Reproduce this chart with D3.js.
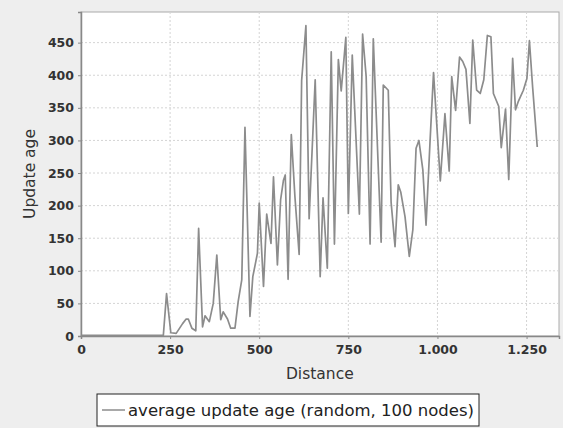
<!DOCTYPE html>
<html>
<head>
<meta charset="UTF-8">
<title>Update age vs distance</title>
<script src="https://d3js.org/d3.v7.min.js"></script>
<style>
  body { margin: 0; background: #eeeeee; font-family: "DejaVu Sans", sans-serif; }
  svg { display: block; }
  .tick text { fill: #333; }
</style>
</head>
<body>
<svg id="chart" width="563" height="428"></svg>
<script>
// values
const distance = [0, 50, 100, 150, 200, 231, 240, 252, 267, 285, 295, 301, 311, 322, 330, 341, 348, 360, 371, 381,
  392, 399, 411, 420, 432, 441, 451, 460, 474, 482, 495, 500, 512, 521, 533, 540, 551, 560, 568, 573,
  581, 590, 600, 612, 619, 631, 640, 657, 671, 679, 691, 702, 711, 722, 730, 743, 750, 761, 781, 790,
  800, 811, 820, 842, 848, 862, 870, 881, 890, 897, 909, 921, 931, 940, 948, 959, 968, 979, 989, 1008,
  1021, 1033, 1040, 1051, 1062, 1071, 1080, 1091, 1099, 1110, 1120, 1130, 1140, 1150, 1157, 1172, 1179, 1191, 1200, 1211,
  1219, 1227, 1241, 1251, 1258, 1267, 1280];
const updateAge = [1, 1, 1, 1, 1, 1, 65, 5, 4, 19, 26, 26, 12, 8, 165, 14, 31, 22, 50, 124,
  25, 37, 26, 12, 12, 53, 86, 320, 30, 91, 127, 204, 76, 187, 142, 244, 109, 209, 239, 247,
  87, 309, 215, 125, 392, 476, 180, 393, 91, 212, 104, 436, 141, 424, 376, 458, 188, 431, 187, 463,
  398, 141, 456, 144, 385, 377, 205, 137, 232, 221, 183, 122, 163, 288, 300, 255, 170, 296, 404, 238,
  341, 253, 398, 346, 428, 421, 409, 326, 454, 377, 372, 393, 461, 459, 372, 352, 289, 348, 240, 426,
  347, 360, 377, 395, 453, 382, 290];
const xTicks = [0, 250, 500, 750, 1000, 1250];
const yTicks = [0, 50, 100, 150, 200, 250, 300, 350, 400, 450];
const seriesName = "average update age (random, 100 nodes)";

const data = distance.map((d, i) => ({ x: d, y: updateAge[i] }));

const svg = d3.select("#chart");
const margin = { top: 12, right: 4, bottom: 92, left: 81 };
const width = +svg.attr("width") - margin.left - margin.right;
const height = +svg.attr("height") - margin.top - margin.bottom;

const x = d3.scaleLinear().domain([0, 1341]).range([0, width]);
const y = d3.scaleLinear().domain([0, 497]).range([height, 0]);

const g = svg.append("g").attr("transform", `translate(${margin.left},${margin.top})`);

g.append("rect").attr("width", width).attr("height", height)
  .attr("fill", "#ffffff").attr("stroke", "#aaaaaa");

// grid
g.selectAll(".vgrid").data(xTicks.slice(1)).join("line")
  .attr("x1", d => x(d)).attr("x2", d => x(d))
  .attr("y1", 0).attr("y2", height)
  .attr("stroke", "#d4d4d4").attr("stroke-dasharray", "2,2");
g.selectAll(".hgrid").data(yTicks.slice(1)).join("line")
  .attr("y1", d => y(d)).attr("y2", d => y(d))
  .attr("x1", 0).attr("x2", width)
  .attr("stroke", "#d4d4d4").attr("stroke-dasharray", "2,2");

const fmt = d => d3.format(",")(d).replace(/,/g, ".");

const xAxis = g.append("g").attr("transform", `translate(0,${height})`)
  .call(d3.axisBottom(x).tickValues(xTicks).tickSize(3).tickPadding(6).tickFormat(fmt));
const yAxis = g.append("g")
  .call(d3.axisLeft(y).tickValues(yTicks).tickSize(3).tickPadding(4));
[xAxis, yAxis].forEach(a => {
  a.select(".domain").attr("stroke", "#888888").attr("stroke-width", 1.5);
  a.selectAll(".tick line").attr("stroke", "#888888");
  a.selectAll(".tick text").attr("font-size", 12.5).attr("font-weight", "bold")
    .attr("font-family", "DejaVu Sans, sans-serif").attr("fill", "#333");
});

// series
g.append("path").datum(data)
  .attr("fill", "none").attr("stroke", "#8c8c8c").attr("stroke-width", 1.7)
  .attr("stroke-linejoin", "round")
  .attr("d", d3.line().x(d => x(d.x)).y(d => y(d.y)));

// axis titles
svg.append("text").attr("x", margin.left + x(670)).attr("y", 379)
  .attr("text-anchor", "middle").attr("font-size", 15.5).attr("fill", "#333")
  .text("Distance");
svg.append("text")
  .attr("transform", `translate(35,${margin.top + height / 2}) rotate(-90)`)
  .attr("text-anchor", "middle").attr("font-size", 15.5).attr("fill", "#333")
  .text("Update age");

// legend
const lg = svg.append("g").attr("transform", "translate(97,394)");
lg.append("rect").attr("width", 382).attr("height", 32)
  .attr("fill", "#ffffff").attr("stroke", "#222").attr("stroke-width", 1);
lg.append("line").attr("x1", 5).attr("x2", 28).attr("y1", 16).attr("y2", 16)
  .attr("stroke", "#8c8c8c").attr("stroke-width", 1.5);
lg.append("text").attr("x", 31).attr("y", 22).attr("font-size", 16.5).attr("fill", "#222")
  .text(seriesName);
</script>
</body>
</html>
